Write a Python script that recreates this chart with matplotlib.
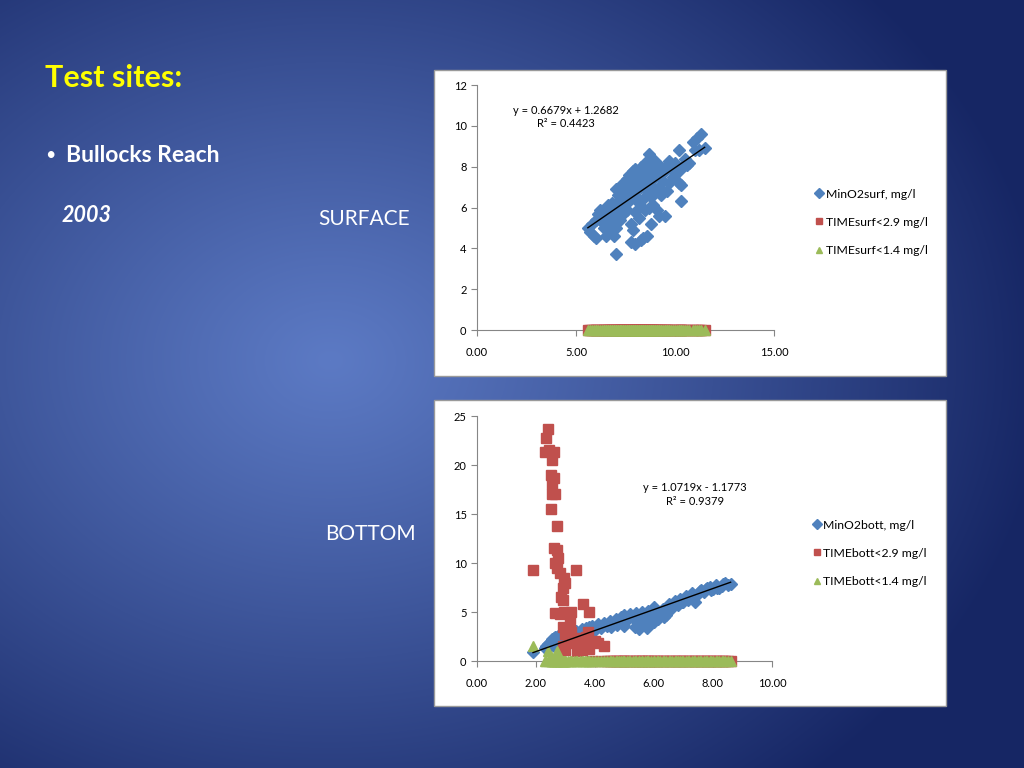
import numpy as np
import matplotlib.pyplot as plt
from matplotlib.patches import Rectangle

plt.rcParams['font.family'] = ['Lato', 'DejaVu Sans']

# -----------------------------
# Surface data (x shared by all three series)
# -----------------------------
surf_x = [5.6, 5.7, 5.8, 5.9, 6.0, 6.0, 6.1, 6.2, 6.3, 6.4, 6.4, 6.5, 6.5, 6.6, 6.6,
          6.7, 6.7, 6.8, 6.8, 6.9, 6.9, 7.0, 7.0, 7.0, 7.1, 7.1, 7.2, 7.2, 7.2, 7.3,
          7.3, 7.4, 7.4, 7.4, 7.5, 7.5, 7.6, 7.6, 7.6, 7.7, 7.7, 7.7, 7.8, 7.8, 7.8,
          7.9, 7.9, 7.9, 8.0, 8.0, 8.0, 8.0, 8.1, 8.1, 8.1, 8.2, 8.2, 8.2, 8.3, 8.3,
          8.3, 8.3, 8.4, 8.4, 8.4, 8.5, 8.5, 8.5, 8.6, 8.6, 8.6, 8.7, 8.7, 8.7, 8.8,
          8.8, 8.8, 8.9, 8.9, 8.9, 9.0, 9.0, 9.1, 9.1, 9.1, 9.2, 9.2, 9.3, 9.3, 9.4,
          9.5, 9.5, 9.6, 9.6, 9.7, 9.7, 9.8, 9.9, 10.0, 10.1, 10.2, 10.2, 10.3, 10.3,
          10.4, 10.5, 10.6, 10.7, 10.9, 11.0, 11.1, 11.2, 11.3, 11.5]
surf_o2 = [5.0, 4.8, 5.2, 4.6, 5.4, 4.5, 5.7, 5.9, 5.5, 5.0, 5.2, 4.6, 5.3, 5.8, 6.1,
           4.9, 5.6, 5.2, 6.2, 4.6, 5.6, 3.7, 5.0, 6.9, 6.0, 6.6, 5.4, 7.0, 6.4, 6.2,
           6.8, 5.7, 7.2, 6.6, 6.5, 7.0, 5.9, 7.4, 6.8, 6.3, 6.9, 7.6, 4.3, 5.2, 7.1,
           4.9, 6.6, 7.8, 4.2, 5.8, 7.3, 7.9, 6.9, 7.5, 6.5, 5.5, 6.2, 7.7, 4.4, 7.0,
           8.0, 7.5, 4.5, 6.4, 7.3, 5.9, 7.6, 8.2, 4.6, 6.8, 7.8, 8.6, 6.0, 7.2, 5.2,
           6.5, 7.9, 7.4, 6.1, 6.9, 8.3, 6.9, 7.6, 5.9, 8.1, 5.6, 7.0, 8.0, 6.6, 7.3,
           5.6, 7.8, 6.8, 8.1, 7.2, 8.3, 7.9, 7.5, 8.2, 7.7, 8.8, 7.2, 7.1, 6.3,
           8.0, 8.4, 8.1, 8.2, 9.2, 8.8, 9.4, 8.8, 9.6, 8.9]
surf_t29 = np.zeros(len(surf_x))   # all points sit on 0
surf_t14 = np.zeros(len(surf_x))

# -----------------------------
# Bottom data (x shared by all three series)
# -----------------------------
bott_x = [1.90, 2.30, 2.35, 2.40, 2.45, 2.50, 2.50, 2.55, 2.55, 2.55, 2.60, 2.60, 2.60,
          2.65, 2.65, 2.65, 2.70, 2.70, 2.70, 2.75, 2.80, 2.80, 2.85, 2.90, 2.90, 2.90,
          2.90, 2.95, 2.95, 3.00, 3.00, 3.00, 3.00, 3.10, 3.15, 3.20, 3.20, 3.30, 3.35,
          3.40, 3.50, 3.55, 3.60, 3.65, 3.70, 3.75, 3.80, 3.80, 3.90, 4.00, 4.10, 4.20,
          4.30, 4.40, 4.50, 4.55, 4.60, 4.70, 4.75, 4.80, 4.90, 4.95, 5.00, 5.00, 5.10,
          5.15, 5.20, 5.30, 5.35, 5.40, 5.50, 5.50, 5.60, 5.60, 5.70, 5.75, 5.80, 5.80,
          5.90, 6.00, 6.00, 6.10, 6.15, 6.20, 6.30, 6.35, 6.40, 6.50, 6.55, 6.60, 6.70,
          6.75, 6.80, 6.90, 6.95, 7.00, 7.10, 7.15, 7.20, 7.30, 7.35, 7.40, 7.50, 7.55,
          7.60, 7.70, 7.75, 7.80, 7.90, 7.95, 8.00, 8.10, 8.15, 8.20, 8.30, 8.35, 8.40,
          8.50, 8.60]
bott_o2 = [0.9, 1.3, 1.5, 1.7, 1.4, 1.9, 1.6, 2.0, 1.8, 2.2, 1.5, 2.1, 2.3,
           1.9, 2.4, 2.0, 2.5, 1.7, 2.2, 2.6, 2.0, 2.4, 2.7, 2.3, 1.9, 2.5,
           2.1, 2.8, 2.2, 2.6, 2.4, 2.0, 2.9, 2.7, 2.3, 2.9, 2.5, 2.8, 3.1,
           2.6, 3.0, 3.3, 3.2, 3.0, 3.4, 3.1, 3.5, 3.3, 3.6, 3.2, 3.8, 3.4,
           3.9, 3.6, 4.1, 3.5, 3.8, 4.3, 3.7, 4.0, 4.5, 3.9, 3.6, 4.7, 4.2,
           4.6, 4.8, 4.4, 3.5, 4.9, 3.3, 4.1, 5.0, 3.7, 4.6, 3.4, 5.1, 3.9,
           4.4, 5.5, 4.0, 5.0, 4.3, 4.6, 5.3, 4.5, 4.7, 5.8, 5.2, 5.5, 6.1,
           5.9, 5.7, 6.3, 6.0, 6.0, 6.6, 6.2, 6.4, 6.9, 6.6, 6.0, 6.8, 7.1,
           7.2, 7.0, 7.3, 7.4, 7.6, 7.2, 7.3, 7.8, 7.5, 7.5, 7.7, 7.9, 8.0,
           7.8, 7.9]
bott_t29 = [9.3, 21.3, 22.8, 23.7, 21.5, 19.0, 15.5, 20.5, 18.1, 17.0, 21.3, 18.7, 11.5,
            17.0, 10.0, 4.9, 13.8, 11.3, 9.5, 10.5, 9.0, 4.8, 6.5, 7.4, 6.2, 3.5,
            1.5, 8.5, 5.0, 8.0, 4.9, 2.8, 1.1, 2.2, 4.0, 5.0, 3.0, 1.8, 9.3,
            1.0, 2.3, 1.1, 5.8, 1.8, 2.5, 3.0, 5.0, 1.2, 0, 2.0, 1.8, 0,
            1.5, 0, 0, 0, 0, 0, 0, 0, 0, 0, 0, 0, 0,
            0, 0, 0, 0, 0, 0, 0, 0, 0, 0, 0, 0, 0,
            0, 0, 0, 0, 0, 0, 0, 0, 0, 0, 0, 0, 0,
            0, 0, 0, 0, 0, 0, 0, 0, 0, 0, 0, 0, 0,
            0, 0, 0, 0, 0, 0, 0, 0, 0, 0, 0, 0, 0,
            0, 0]
bott_t14 = [1.5, 0, 0, 1.0, 0, 0.5, 0, 0, 0, 0, 0, 0, 0,
            0, 0, 0, 1.0, 0, 0, 0, 0, 0, 0, 0, 0, 0,
            0, 0, 0, 0, 0, 0, 0, 0, 0, 0, 0, 0, 0,
            0, 0, 0, 0, 0, 0, 0, 0, 0, 0, 0, 0, 0,
            0, 0, 0, 0, 0, 0, 0, 0, 0, 0, 0, 0, 0,
            0, 0, 0, 0, 0, 0, 0, 0, 0, 0, 0, 0, 0,
            0, 0, 0, 0, 0, 0, 0, 0, 0, 0, 0, 0, 0,
            0, 0, 0, 0, 0, 0, 0, 0, 0, 0, 0, 0, 0,
            0, 0, 0, 0, 0, 0, 0, 0, 0, 0, 0, 0, 0,
            0, 0]

# trendline coefficients as printed on the charts
surf_fit = (0.6679, 1.2682)
bott_fit = (1.0719, -1.1773)

BLUE = '#4F81BD'
RED = '#C0504D'
GREEN = '#9BBB59'
AXIS = '#868686'

# -----------------------------
# Slide background (radial blue gradient)
# -----------------------------
fig = plt.figure(figsize=(10.24, 7.68), dpi=100)
bg = fig.add_axes([0, 0, 1, 1])
yy, xx = np.mgrid[0:768, 0:1024]
d = np.sqrt(((xx - 330) / 720.0) ** 2 + ((yy - 360) / 560.0) ** 2)
d = np.clip(d, 0, 1) ** 1.1
inner = np.array([92, 122, 196]) / 255.0
outer = np.array([22, 38, 100]) / 255.0
img = inner[None, None, :] * (1 - d[..., None]) + outer[None, None, :] * d[..., None]
bg.imshow(img, aspect='auto', extent=[0, 1024, 768, 0])
bg.set_xlim(0, 1024)
bg.set_ylim(768, 0)
bg.axis('off')

bg.text(45, 78, 'Test sites:', color='#FFFF00', fontsize=22, fontweight='bold', va='center')
bg.text(45, 155, '\u2022', color='white', fontsize=13, va='center')
bg.text(66, 155, 'Bullocks Reach', color='white', fontsize=16.5, fontweight='bold', va='center')
bg.text(62, 216, '2003', color='white', fontsize=15.5, fontweight='bold', style='italic', va='center')
bg.text(364, 219, 'SURFACE', color='white', fontsize=15, ha='center', va='center')
bg.text(370, 534, 'BOTTOM', color='white', fontsize=15, ha='center', va='center')

# white chart frames
for top in (70, 400):
    bg.add_patch(Rectangle((434, top), 512, 306, facecolor='white', edgecolor='#9a9a9a', lw=1))


def draw_chart(rect, x, o2, t29, t14, fit, labels, xmax, xstep, ymax, ystep, eq_xy, eq_txt):
    ax = fig.add_axes(rect)
    ax.set_facecolor('none')
    ax.plot(x, o2, 'D', color=BLUE, ms=6.5, mec=BLUE, label=labels[0], clip_on=False, zorder=3)
    ax.plot(x, t29, 's', color=RED, ms=7.5, mec=RED, label=labels[1], clip_on=False, zorder=4)
    ax.plot(x, t14, '^', color=GREEN, ms=7, mec=GREEN, label=labels[2], clip_on=False, zorder=5)
    xs = np.array([min(x), max(x)])
    ax.plot(xs, fit[0] * xs + fit[1], color='black', lw=1, zorder=6)

    ax.set_xlim(0, xmax)
    ax.set_ylim(0, ymax)
    ax.set_xticks(np.arange(0, xmax + 0.01, xstep))
    ax.set_xticklabels(['%.2f' % v for v in np.arange(0, xmax + 0.01, xstep)])
    ax.set_yticks(np.arange(0, ymax + 1, ystep))
    for s in ('top', 'right'):
        ax.spines[s].set_visible(False)
    for s in ('left', 'bottom'):
        ax.spines[s].set_color(AXIS)
    ax.tick_params(colors=AXIS, labelcolor='black', labelsize=8, length=4, direction='out')
    ax.tick_params(axis='x', pad=8)
    ax.text(eq_xy[0], eq_xy[1], eq_txt, transform=ax.transAxes, fontsize=8,
            ha='center', va='top', linespacing=1.3)
    leg = ax.legend(loc='center left', bbox_to_anchor=(1.125, 0.44), frameon=False, fontsize=8.8,
                    handlelength=0.5, handletextpad=0.3, labelspacing=1.4, borderaxespad=0)
    for h in leg.legend_handles:
        h.set_markersize(5)
    return ax


draw_chart([0.4658, 0.5703, 0.290, 0.319], surf_x, surf_o2, surf_t29, surf_t14, surf_fit,
           ['MinO2surf, mg/l', 'TIMEsurf<2.9 mg/l', 'TIMEsurf<1.4 mg/l'],
           15, 5, 12, 2, (0.30, 0.92), 'y = 0.6679x + 1.2682\nR² = 0.4423')
draw_chart([0.4658, 0.1393, 0.288, 0.319], bott_x, bott_o2, bott_t29, bott_t14, bott_fit,
           ['MinO2bott, mg/l', 'TIMEbott<2.9 mg/l', 'TIMEbott<1.4 mg/l'],
           10, 2, 25, 5, (0.74, 0.73), 'y = 1.0719x - 1.1773\nR² = 0.9379')

fig.savefig('out.png', dpi=100)
